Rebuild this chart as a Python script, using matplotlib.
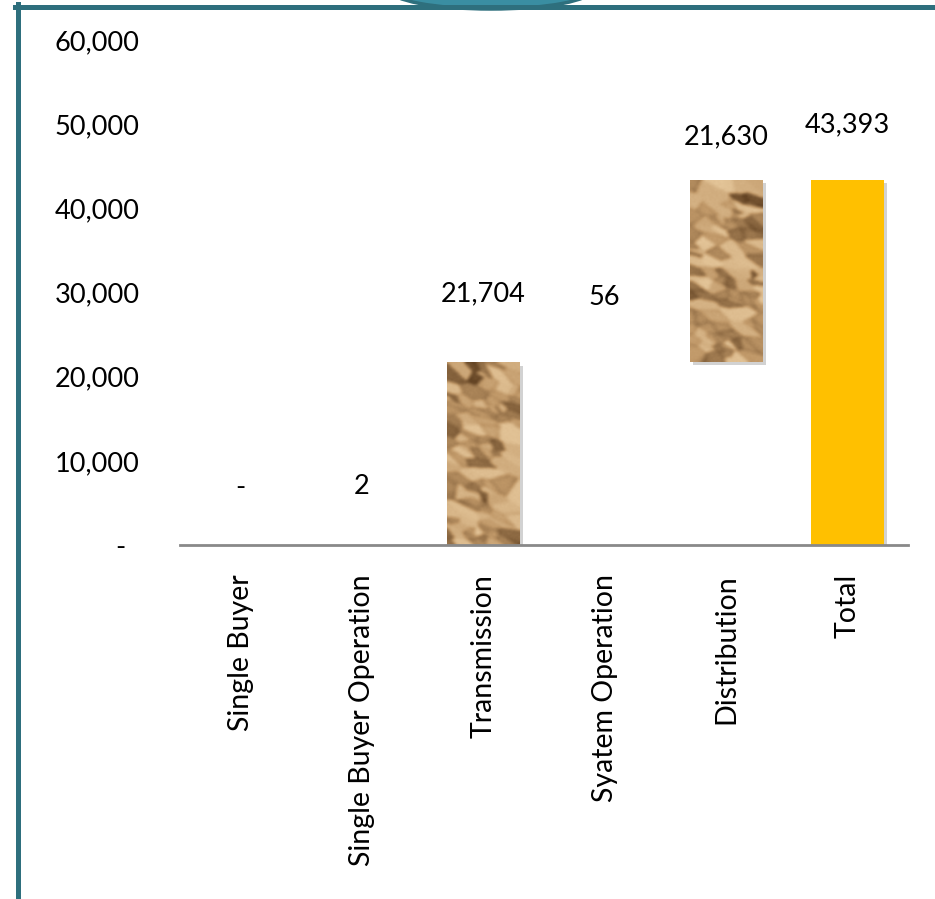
import numpy as np
import matplotlib
matplotlib.use('Agg')
import matplotlib.pyplot as plt
import matplotlib.patches as mpatches
import matplotlib.patheffects as pe
from matplotlib.lines import Line2D

# Cost build-up by segment
categories = ['Single Buyer', 'Single Buyer Operation', 'Transmission',
              'Syatem Operation', 'Distribution', 'Total']
values = [0, 2, 21704, 56, 21630, 43393]
value_labels = ['-', '2', '21,704', '56', '21,630', '43,393']
yticks = [0, 10000, 20000, 30000, 40000, 50000, 60000]
ytick_labels = ['-  ', '10,000', '20,000', '30,000', '40,000', '50,000', '60,000']

# label lift above each bar top (data units)
label_pad = [6800, 6900, 8100, 7700, 5100, 6500]

plt.rcParams['font.family'] = ['Lato', 'DejaVu Sans']
FS = 19.5

W, H = 935, 899
fig = plt.figure(figsize=(W / 100, H / 100), dpi=100)


def fx(px):
    return px / W


def fy(py):
    return 1 - py / H


ax = fig.add_axes([fx(180), fy(545), fx(908) - fx(180), fy(40) - fy(545)])


def box_blur(a, r):
    out = a.copy()
    for axis in (0, 1):
        pad = [(0, 0)] * out.ndim
        pad[axis] = (r, r)
        p = np.pad(out, pad, mode='edge')
        c = np.cumsum(p, axis=axis)
        c = np.insert(c, 0, 0, axis=axis)
        n = out.shape[axis]
        out = (np.take(c, np.arange(2 * r + 1, 2 * r + 1 + n), axis=axis)
               - np.take(c, np.arange(0, n), axis=axis)) / (2 * r + 1)
    return out


def paper_texture(seed, h=320, w=110):
    # crumpled paper: soft faceted cells with dark creases along the folds
    rng = np.random.default_rng(seed)
    n = 110
    pts = rng.uniform([0, 0], [w, h], size=(n, 2))
    normals = rng.normal(size=(n, 3)) * [1, 1, 0.6] + [0, 0, 1.4]
    normals /= np.linalg.norm(normals, axis=1, keepdims=True)
    yy, xx = np.mgrid[0:h, 0:w].astype(float)
    # skew the cells so folds run mostly diagonally
    u = xx * 0.8 + yy * 0.45
    v = -xx * 0.45 + yy * 0.8
    pu = pts[:, 0] * 0.8 + pts[:, 1] * 0.45
    pv = -pts[:, 0] * 0.45 + pts[:, 1] * 0.8
    d = (u[..., None] - pu) ** 2 * 0.45 + (v[..., None] - pv) ** 2 * 1.8
    order = np.argsort(d, axis=-1)
    near = order[..., 0]
    d1 = np.take_along_axis(d, order[..., :1], -1)[..., 0]
    d2 = np.take_along_axis(d, order[..., 1:2], -1)[..., 0]
    light = np.array([-0.5, 0.6, 0.62])
    light /= np.linalg.norm(light)
    shade = normals[near] @ light
    crease = np.exp(-(np.sqrt(d2) - np.sqrt(d1)) / 2.0)
    t = shade - 0.6 * crease * (shade < shade.mean() + 0.1)
    t = box_blur(box_blur(t, 3), 2) + 0.05 * box_blur(rng.normal(size=(h, w)), 1)
    t = (t - t.mean()) / (t.std() + 1e-9)
    t = np.clip(0.6 + 0.2 * t, 0, 1)[..., None]
    dark = np.array([100, 68, 36]) / 255
    mid = np.array([192, 152, 104]) / 255
    lite = np.array([232, 202, 158]) / 255
    img = np.where(t < 0.6, dark + (mid - dark) * (t / 0.6),
                   mid + (lite - mid) * ((t - 0.6) / 0.4))
    return np.clip(img, 0, 1)


shadow = [pe.SimplePatchShadow(offset=(2.5, -2.5), shadow_rgbFace='gray', alpha=0.35), pe.Normal()]

x = np.arange(len(categories))
bar_w = 0.6
running = 0
tops = []
for i, v in enumerate(values):
    is_total = categories[i] == 'Total'
    base = 0 if is_total else running
    top = base + v
    tops.append(top)
    if not is_total:
        running = top
    if v < 1000:
        continue
    if is_total:
        ax.bar(x[i], v, bar_w, bottom=base, color='#FFC000', zorder=2,
               path_effects=shadow)
    else:
        rect = ax.bar(x[i], v, bar_w, bottom=base, color='#C49E70', zorder=2,
                      path_effects=shadow)[0]
        img = ax.imshow(paper_texture(i + 3), extent=(x[i] - bar_w / 2, x[i] + bar_w / 2, base, top),
                        aspect='auto', origin='upper', zorder=3, interpolation='bilinear')
        img.set_clip_path(rect)

for i, lab in enumerate(value_labels):
    ax.text(x[i], tops[i] + label_pad[i], lab, ha='center', va='center', fontsize=FS, color='black')

ax.set_xlim(-0.5, len(categories) - 0.5)
ax.set_ylim(0, 60000)
ax.set_yticks(yticks)
ax.set_yticklabels(ytick_labels, fontsize=FS)
ax.set_xticks(x)
ax.set_xticklabels(categories, rotation=90, fontsize=20.5, va='top', ha='center')
ax.tick_params(axis='y', length=0, pad=29)
ax.tick_params(axis='x', length=0, pad=21)
for s in ['left', 'right', 'top']:
    ax.spines[s].set_visible(False)
ax.spines['bottom'].set_color('#898989')
ax.spines['bottom'].set_linewidth(2)
ax.spines['bottom'].set_zorder(4)
ax.set_facecolor('none')

# teal frame and tab at top
teal = '#2E6F7D'
fig.add_artist(mpatches.Ellipse((fx(491), fy(-10)), fx(202), 38 / H, facecolor='#3A8EA2',
                                edgecolor=teal, linewidth=2.5, transform=fig.transFigure))
fig.add_artist(Line2D([fx(17.5), fx(17.5)], [fy(4), fy(899)], color=teal, linewidth=3.6,
                      transform=fig.transFigure))
fig.add_artist(Line2D([fx(15), fx(935)], [fy(6.5), fy(6.5)], color=teal, linewidth=3.6,
                      transform=fig.transFigure))

fig.savefig('out.png', dpi=100)
